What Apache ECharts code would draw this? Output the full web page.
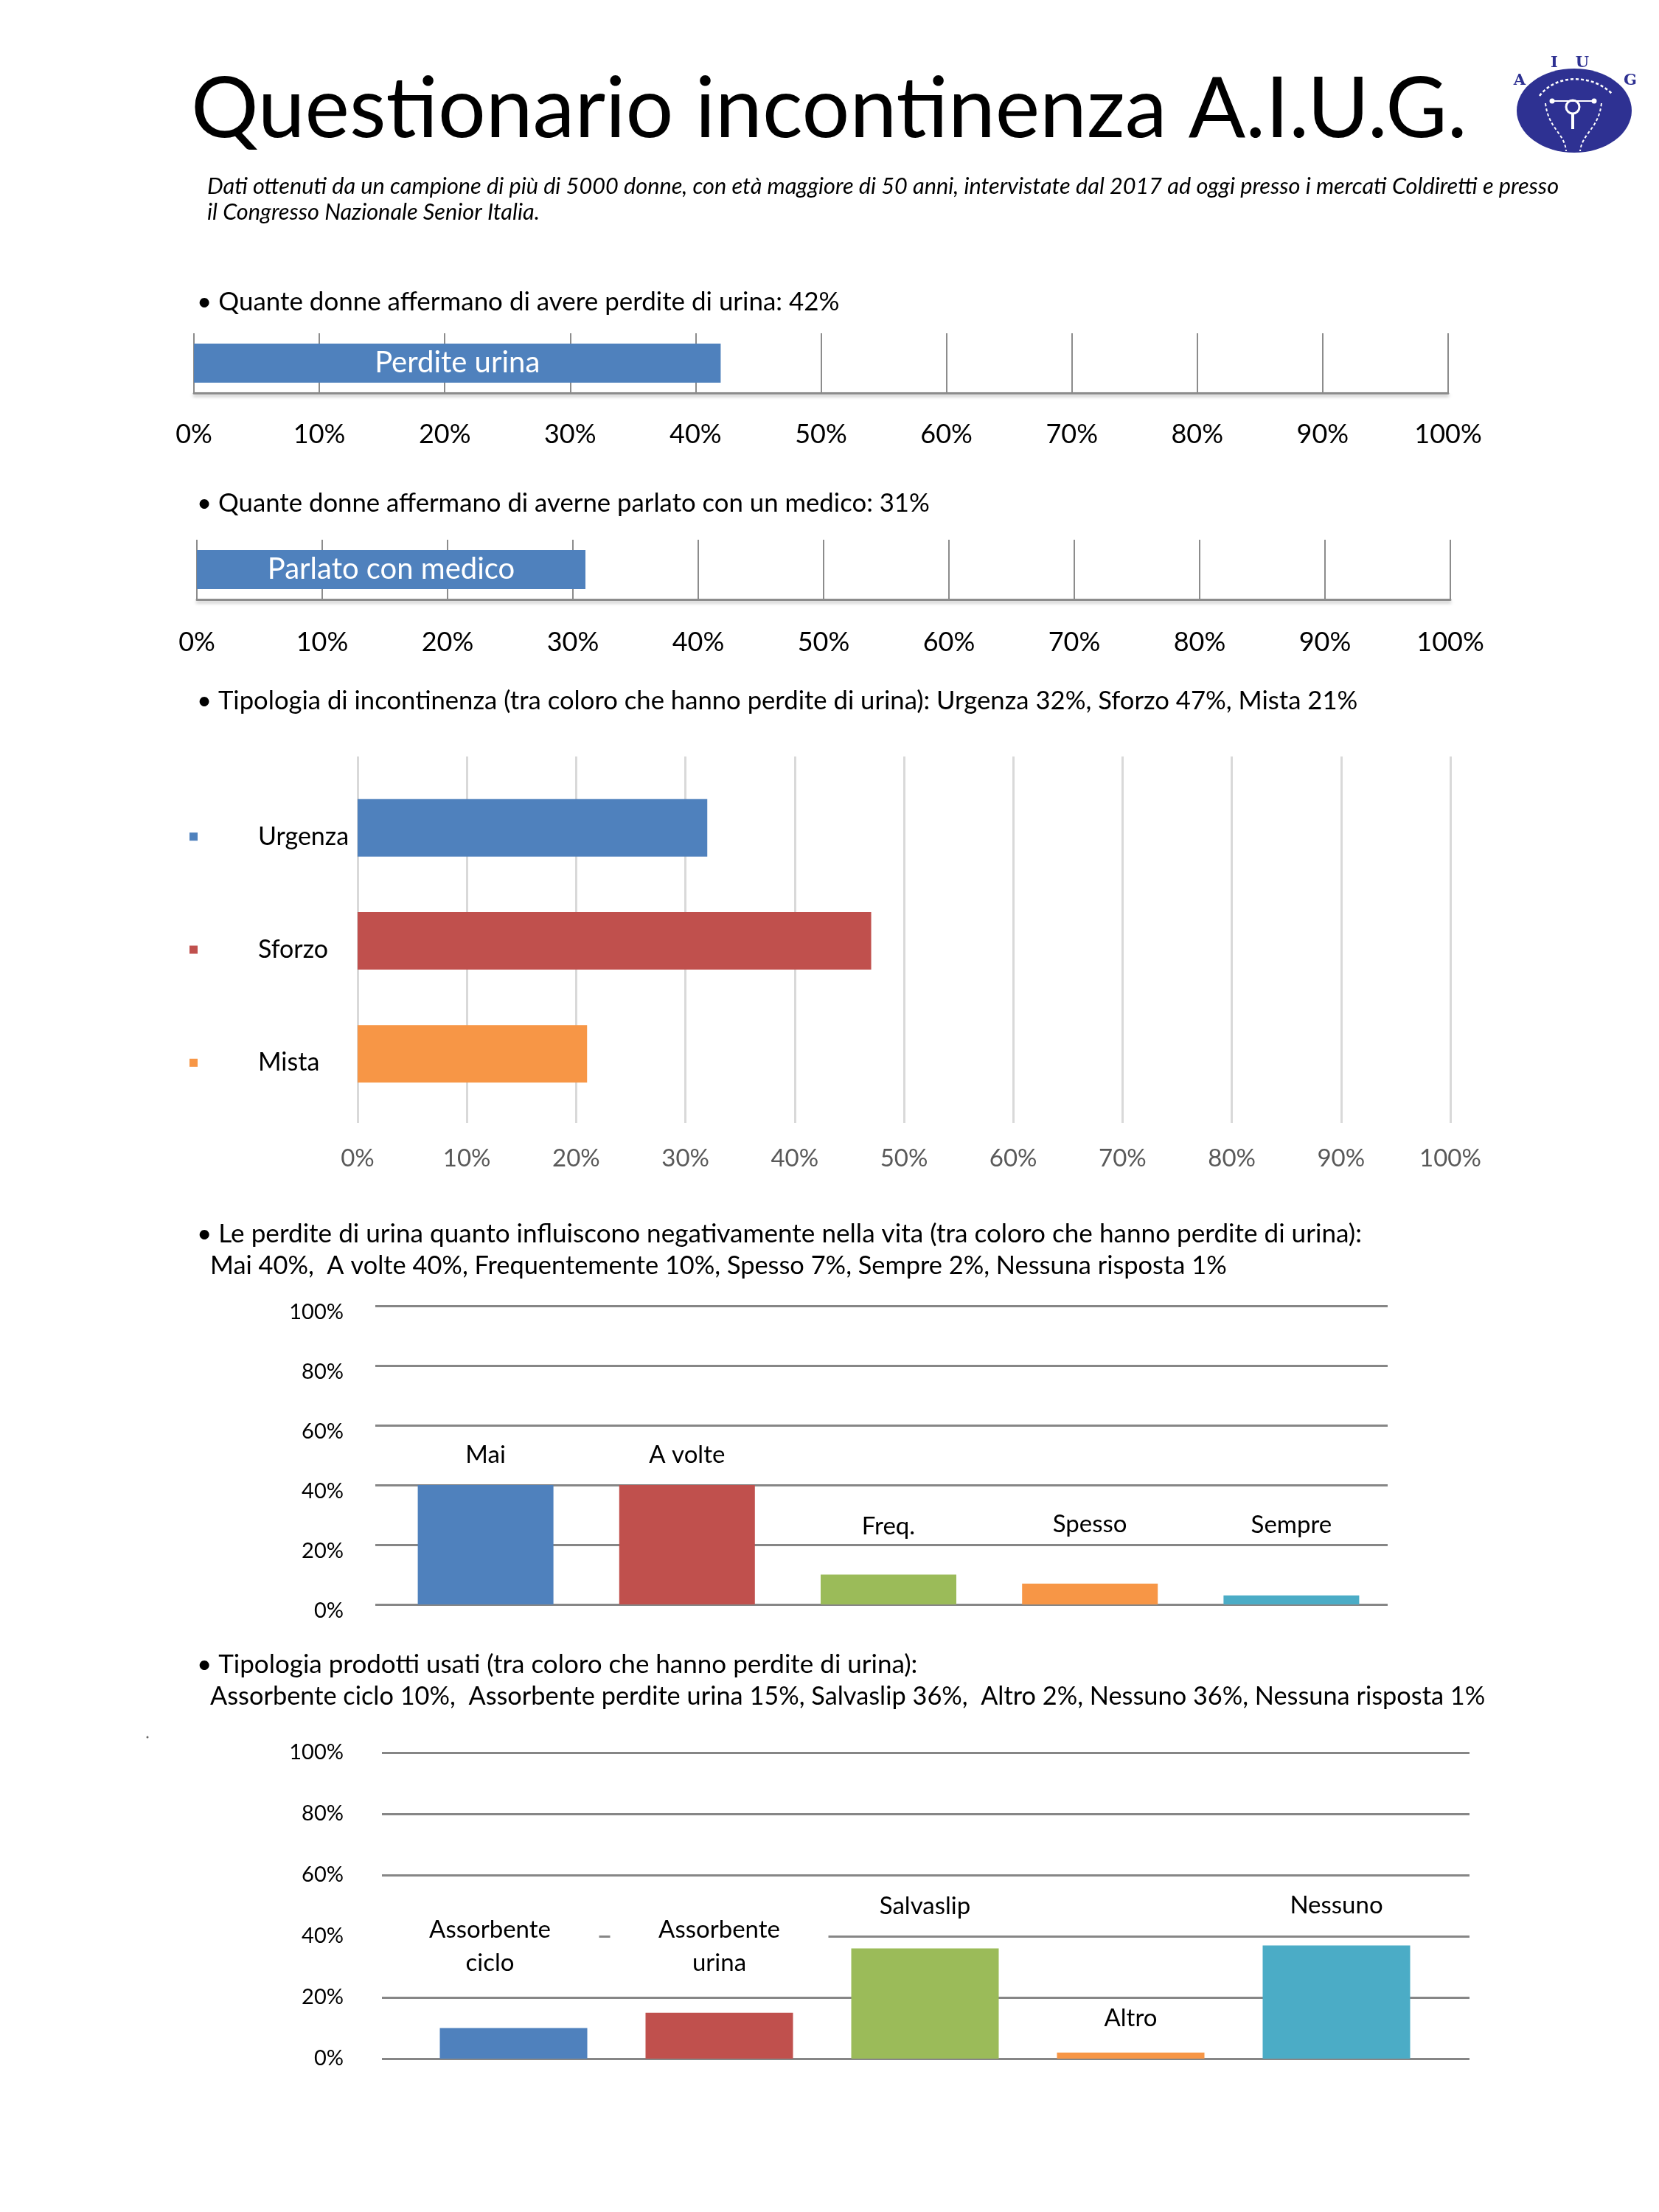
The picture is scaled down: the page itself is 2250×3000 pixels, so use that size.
<!DOCTYPE html>
<html><head><meta charset="utf-8">
<script src="https://cdn.jsdelivr.net/npm/echarts@6.0.0/dist/echarts.min.js"></script>
<style>html,body{margin:0;padding:0;background:#fff}#c{width:2250px;height:3000px}</style>
</head><body><div id="c"></div>
<script>
// ---------------- DATA ----------------
const perditeCategories = ['Perdite urina'];
const perditeValues = [42];
const medicoCategories = ['Parlato con medico'];
const medicoValues = [31];
const tipologiaCategories = ['Urgenza', 'Sforzo', 'Mista'];
const tipologiaValues = [32, 47, 21];
const vitaCategories = ['Mai', 'A volte', 'Freq.', 'Spesso', 'Sempre'];
const vitaValues = [40, 40, 10, 7, 3];
const prodottiCategories = ['Assorbente\nciclo', 'Assorbente\nurina', 'Salvaslip', 'Altro', 'Nessuno'];
const prodottiValues = [10, 15, 36, 2, 37];
const pctSuffix = '%';

const titleText = 'Questionario incontinenza A.I.U.G.';
const subtitleLines = [
  'Dati ottenuti da un campione di più di 5000 donne, con età maggiore di 50 anni, intervistate dal 2017 ad oggi presso i mercati Coldiretti e presso',
  'il Congresso Nazionale Senior Italia.'
];
const q1 = '• Quante donne affermano di avere perdite di urina: 42%';
const q2 = '• Quante donne affermano di averne parlato con un medico: 31%';
const q3 = '• Tipologia di incontinenza (tra coloro che hanno perdite di urina): Urgenza 32%, Sforzo 47%, Mista 21%';
const q4a = '• Le perdite di urina quanto influiscono negativamente nella vita (tra coloro che hanno perdite di urina):';
const q4b = 'Mai 40%,  A volte 40%, Frequentemente 10%, Spesso 7%, Sempre 2%, Nessuna risposta 1%';
const q5a = '• Tipologia prodotti usati (tra coloro che hanno perdite di urina):';
const q5b = 'Assorbente ciclo 10%,  Assorbente perdite urina 15%, Salvaslip 36%,  Altro 2%, Nessuno 36%, Nessuna risposta 1%';

// ---------------- STYLE ----------------
const F = 'Lato';
const PALETTE = ['#4f81bd', '#c0504d', '#9bbb59', '#f79646', '#4bacc6'];
const TIPO_COLORS = ['#4f81bd', '#c0504d', '#f79646'];
const VITA_LIFT = [21, 21, 45, 60, 75];
const PROD_LIFT = [66, 45, 35, 24, 32];
const PROD_OFFSET = [[-32, 0], [0, 0], [0, 0], [0, 0], [0, 0]];

const mctx = document.createElement('canvas').getContext('2d');
function fit(text, target, italic) {
  mctx.font = (italic ? 'italic ' : '') + '100px ' + F;
  return 100 * target / mctx.measureText(text).width;
}
function txt(text, x, y, size, opts) {
  opts = opts || {};
  return {
    type: 'text', x: x, y: y, z: 10,
    style: {
      text: text, fontSize: size, fontFamily: F, fontStyle: opts.italic ? 'italic' : 'normal',
      fill: opts.fill || '#000', align: opts.align || 'left', verticalAlign: 'middle',
      textAlign: opts.align || 'left', textVerticalAlign: 'middle'
    }
  };
}
function logoLetter(ch, x, y) {
  return {type: 'text', x: x, y: y, style: {text: ch, fontSize: 21, fontWeight: 'bold', fontFamily: 'DejaVu Serif',
    fill: '#2e3192', align: 'center', verticalAlign: 'middle', textAlign: 'center', textVerticalAlign: 'middle'}};
}
const subSize = fit(subtitleLines[0], 1834, true);
const pctFmt = v => v + pctSuffix;

const graphics = [
  txt(titleText, 259, 149, fit(titleText, 1731)),
  txt(subtitleLines[0], 281, 253, subSize, {italic: true}),
  txt(subtitleLines[1], 281, 288, subSize, {italic: true}),
  txt(q1, 267, 410, fit(q1, 872)),
  txt(q2, 267, 683, fit(q2, 994)),
  txt(q3, 267, 951, fit(q3, 1575)),
  txt(q4a, 267, 1674, fit(q4a, 1581)),
  txt(q4b, 285, 1717, fit(q4b, 1379)),
  txt(q5a, 267, 2258, fit(q5a, 978)),
  txt(q5b, 285, 2301, fit(q5b, 1730)),
  {type: 'circle', x: 200, y: 2356, shape: {cx: 0, cy: 0, r: 1.5}, style: {fill: '#666'}},
  // logo
  {type: 'circle', x: 2135, y: 150, scaleY: 57 / 78, shape: {cx: 0, cy: 0, r: 78}, style: {fill: '#2e3192'}},
  {type: 'bezierCurve', shape: {x1: 2088, y1: 130, cpx1: 2110, cpy1: 100, cpx2: 2160, cpy2: 100, x2: 2187, y2: 128},
    style: {stroke: '#fff', lineWidth: 2.5, lineDash: [4, 3], fill: null}},
  {type: 'circle', shape: {cx: 2105, cy: 137, r: 3.5}, style: {fill: '#fff'}},
  {type: 'circle', shape: {cx: 2162, cy: 137, r: 3.5}, style: {fill: '#fff'}},
  {type: 'line', shape: {x1: 2108, y1: 137, x2: 2159, y2: 137}, style: {stroke: '#fff', lineWidth: 2}},
  {type: 'circle', shape: {cx: 2133, cy: 145, r: 9}, style: {fill: null, stroke: '#fff', lineWidth: 3}},
  {type: 'line', shape: {x1: 2133, y1: 154, x2: 2133, y2: 175}, style: {stroke: '#fff', lineWidth: 4}},
  {type: 'bezierCurve', shape: {x1: 2096, y1: 140, cpx1: 2100, cpy1: 175, cpx2: 2122, cpy2: 180, x2: 2124, y2: 205},
    style: {stroke: '#fff', lineWidth: 2, lineDash: [4, 3], fill: null}},
  {type: 'bezierCurve', shape: {x1: 2172, y1: 140, cpx1: 2168, cpy1: 175, cpx2: 2146, cpy2: 180, x2: 2143, y2: 205},
    style: {stroke: '#fff', lineWidth: 2, lineDash: [4, 3], fill: null}},
  logoLetter('A', 2061, 110),
  logoLetter('I', 2108, 86),
  logoLetter('U', 2146, 86),
  logoLetter('G', 2211, 110)
];

const hidden = {show: false};
const noLine = {show: false};
const vGrid = {show: true, lineStyle: {color: '#8c8c8c', width: 2}};
const axisBottom = {show: true, lineStyle: {color: '#8c8c8c', width: 3, shadowColor: 'rgba(0,0,0,0.25)', shadowBlur: 4, shadowOffsetY: 3}};
const hGrid = {show: true, lineStyle: {color: '#868686', width: 3}};

const option = {
  animation: false,
  backgroundColor: '#fff',
  textStyle: {fontFamily: F},
  graphic: graphics,
  grid: [
    {left: 263, top: 452, width: 1701, height: 81},
    {left: 267, top: 732, width: 1700, height: 81},
    {left: 485, top: 1026, width: 1482, height: 497},
    {left: 485, top: 1046, width: 1482, height: 460},
    {left: 509, top: 1771, width: 1373, height: 405},
    {left: 522, top: 1771, width: 1366, height: 405},
    {left: 518, top: 2377, width: 1475, height: 415},
    {left: 557, top: 2377, width: 1395, height: 415}
  ],
  xAxis: [
    {type: 'value', gridIndex: 0, min: 0, max: 100, interval: 10, splitLine: vGrid, axisLine: axisBottom, axisTick: hidden,
      axisLabel: {formatter: pctFmt, fontSize: 36, color: '#000', margin: 38, fontFamily: F}},
    {type: 'value', gridIndex: 1, min: 0, max: 100, interval: 10, splitLine: vGrid, axisLine: axisBottom, axisTick: hidden,
      axisLabel: {formatter: pctFmt, fontSize: 36, color: '#000', margin: 40, fontFamily: F}},
    {type: 'value', gridIndex: 2, min: 0, max: 100, interval: 10, axisLine: noLine, axisTick: hidden,
      splitLine: {show: true, lineStyle: {color: '#d9d9d9', width: 3}},
      axisLabel: {formatter: pctFmt, fontSize: 33, color: '#595959', margin: 32, fontFamily: F}},
    {type: 'value', gridIndex: 3, min: 0, max: 100, show: false},
    {type: 'category', gridIndex: 4, data: vitaCategories, show: false},
    {type: 'category', gridIndex: 5, data: vitaCategories, axisLine: noLine, axisTick: hidden, axisLabel: hidden},
    {type: 'category', gridIndex: 6, data: prodottiCategories, show: false},
    {type: 'category', gridIndex: 7, data: prodottiCategories, axisLine: noLine, axisTick: hidden, axisLabel: hidden}
  ],
  yAxis: [
    {type: 'category', gridIndex: 0, data: perditeCategories, axisLine: noLine, axisTick: hidden, axisLabel: hidden},
    {type: 'category', gridIndex: 1, data: medicoCategories, axisLine: noLine, axisTick: hidden, axisLabel: hidden},
    {type: 'category', gridIndex: 2, data: tipologiaCategories, show: false},
    {type: 'category', gridIndex: 3, data: tipologiaCategories, inverse: true, axisLine: noLine, axisTick: hidden,
      axisLabel: {
        align: 'left', verticalAlign: 'top', margin: 228,
        formatter: (v, i) => '{s' + i + '|}{t|' + v + '}',
        rich: {
          s0: {width: 11, height: 11, backgroundColor: TIPO_COLORS[0]},
          s1: {width: 11, height: 11, backgroundColor: TIPO_COLORS[1]},
          s2: {width: 11, height: 11, backgroundColor: TIPO_COLORS[2]},
          t: {fontSize: 34, lineHeight: 24, color: '#000', fontFamily: F, padding: [0, 0, 0, 82]}
        }
      }},
    {type: 'value', gridIndex: 4, min: 0, max: 100, interval: 20, axisLine: noLine, axisTick: hidden,
      splitLine: hGrid,
      axisLabel: {formatter: pctFmt, fontSize: 29, lineHeight: 18, verticalAlign: 'top', color: '#000', margin: 43, fontFamily: F}},
    {type: 'value', gridIndex: 5, min: 0, max: 100, show: false, splitLine: hidden},
    {type: 'value', gridIndex: 6, min: 0, max: 100, interval: 20, axisLine: noLine, axisTick: hidden,
      splitLine: hGrid,
      axisLabel: {formatter: pctFmt, fontSize: 29, color: '#000', margin: 52, fontFamily: F}},
    {type: 'value', gridIndex: 7, min: 0, max: 100, show: false, splitLine: hidden}
  ],
  series: [
    {type: 'bar', xAxisIndex: 0, yAxisIndex: 0, data: perditeValues, barWidth: 53,
      itemStyle: {color: PALETTE[0]},
      label: {show: true, position: 'inside', formatter: '{b}', color: '#fff', fontSize: 40, fontFamily: F}},
    {type: 'bar', xAxisIndex: 1, yAxisIndex: 1, data: medicoValues, barWidth: 53,
      itemStyle: {color: PALETTE[0]},
      label: {show: true, position: 'inside', formatter: '{b}', color: '#fff', fontSize: 40, fontFamily: F}},
    {type: 'bar', xAxisIndex: 3, yAxisIndex: 3, data: tipologiaValues, barWidth: 78,
      itemStyle: {color: p => TIPO_COLORS[p.dataIndex]}},
    {type: 'bar', xAxisIndex: 5, yAxisIndex: 5, barWidth: 184,
      data: vitaValues.map((v, i) => ({value: v, label: {distance: VITA_LIFT[i]}})),
      itemStyle: {color: p => PALETTE[p.dataIndex]},
      label: {show: true, position: 'top', formatter: '{b}', color: '#000', fontSize: 33, lineHeight: 40, fontFamily: F}},
    {type: 'bar', xAxisIndex: 7, yAxisIndex: 7, barWidth: 200,
      data: prodottiValues.map((v, i) => ({value: v, label: {distance: PROD_LIFT[i], offset: PROD_OFFSET[i]}})),
      itemStyle: {color: p => PALETTE[p.dataIndex]},
      label: {show: true, position: 'top', formatter: '{b}', color: '#000', fontSize: 33, lineHeight: 45,
        fontFamily: F, backgroundColor: '#fff', width: 296, align: 'center'}}
  ]
};

const chart = echarts.init(document.getElementById('c'), null, {renderer: 'canvas', width: 2250, height: 3000});
chart.setOption(option);
</script>
</body></html>
